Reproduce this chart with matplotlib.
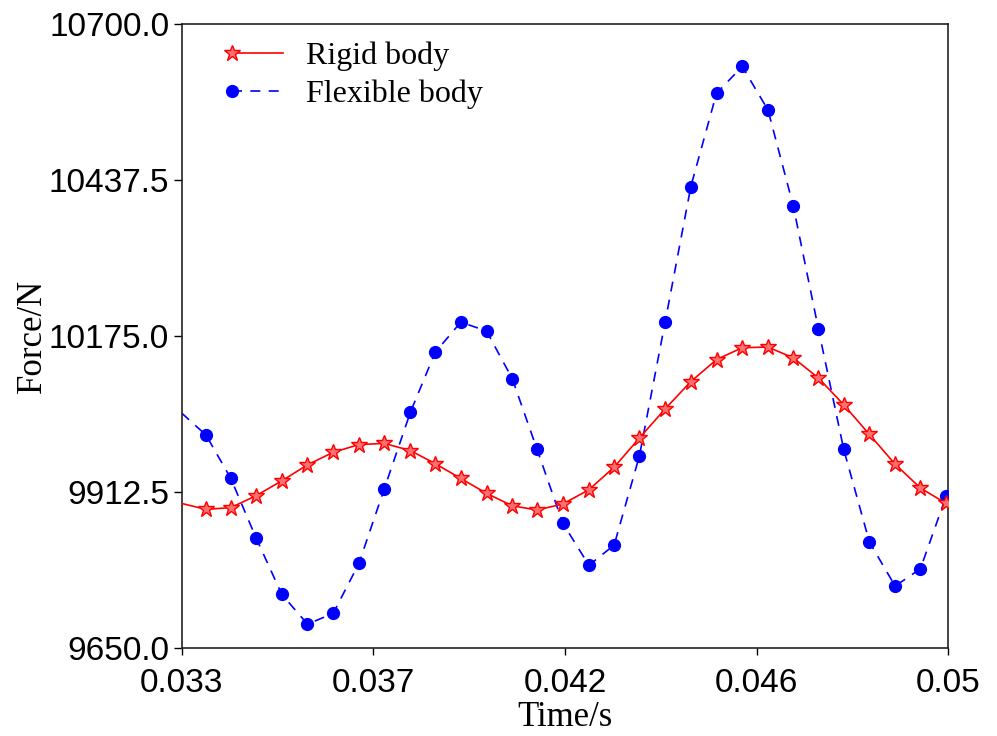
import numpy as np
import matplotlib
matplotlib.use("Agg")
import matplotlib.pyplot as plt
from matplotlib.lines import Line2D
from matplotlib.legend_handler import HandlerLine2D

# marker times (s)
t = [0.03354, 0.03409, 0.03465, 0.03522, 0.03579, 0.03636, 0.03693, 0.03749,
     0.03807, 0.03862, 0.03919, 0.03976, 0.04033, 0.04088, 0.04145, 0.04203,
     0.04259, 0.04315, 0.04372, 0.04429, 0.04486, 0.04543, 0.04600, 0.04656,
     0.04712, 0.04768, 0.04825, 0.04882, 0.04938, 0.04995]

rigid = [9884, 9887, 9907, 9932, 9959, 9980, 9993, 9995, 9983, 9961,
         9936, 9911, 9890, 9883, 9893, 9917, 9955, 10004, 10053, 10099,
         10136, 10156, 10157, 10139, 10105, 10060, 10010, 9960, 9920, 9894]

flexible = [10009, 9936, 9836, 9741, 9691, 9709, 9793, 9918, 10047, 10148,
            10199, 10184, 10104, 9985, 9861, 9790, 9824, 9974, 10199, 10427,
            10584, 10629, 10556, 10395, 10187, 9985, 9829, 9755, 9784, 9906]

# line ends at the axis edges
t_start, t_end = 0.033, 0.05
rigid_start, rigid_end = 9894, 9891
flex_start, flex_end = 10046, 9915

xtick_labels = ["0.033", "0.037", "0.042", "0.046", "0.05"]
yticks = [9650.0, 9912.5, 10175.0, 10437.5, 10700.0]


class LeftMarkerHandler(HandlerLine2D):
    # legend sample with the marker at the left end of the line
    def create_artists(self, *args, **kwargs):
        artists = super().create_artists(*args, **kwargs)
        for a in artists:
            a.set_markevery([0])
        return artists


fig = plt.figure(figsize=(9.97, 7.36), dpi=100)
ax = fig.add_axes([0.1822, 0.1189, 0.7690, 0.8481])

red_style = dict(color="red", lw=1.2, marker="*", ms=12,
                 mfc="#ff7070", mec="red", mew=1.0)
blue_style = dict(color="blue", lw=1.2, ls=(0, (6, 5)), marker="o", ms=8.5,
                  mfc="blue", mec="blue")

# lines (without markers), then markers on top
ax.plot([t_start] + t + [t_end], [flex_start] + flexible + [flex_end],
        color="blue", lw=1.2, ls=(0, (6, 5)), zorder=2)
ax.plot(t, flexible, ls="none", marker="o", ms=8.5, mfc="blue", mec="blue", zorder=3)
ax.plot([t_start] + t + [t_end], [rigid_start] + rigid + [rigid_end],
        color="red", lw=1.2, zorder=4)
ax.plot(t, rigid, ls="none", marker="*", ms=12, mfc="#ff7070", mec="red",
        mew=1.0, zorder=5)

ax.set_xlim(t_start, t_end)
ax.set_ylim(yticks[0], yticks[-1])

ax.set_xticks(np.linspace(t_start, t_end, 5))
ax.set_xticklabels(xtick_labels, family="Liberation Sans", fontsize=24)
ax.set_yticks(yticks)
ax.set_yticklabels([f"{v:.1f}" for v in yticks], family="Liberation Sans", fontsize=24)
ax.tick_params(axis="x", direction="out", length=5, width=1, pad=9)
ax.tick_params(axis="y", direction="out", length=6, width=1, pad=3)

for sp in ax.spines.values():
    sp.set_linewidth(1.2)
    sp.set_color("#222222")

ax.set_xlabel("Time/s", family="Liberation Serif", fontsize=25)
ax.set_ylabel("Force/N", family="Liberation Serif", fontsize=25)
ax.xaxis.set_label_coords(0.5, -0.084)
ax.yaxis.set_label_coords(-0.173, 0.5)

handles = [Line2D([], [], **red_style), Line2D([], [], **blue_style)]
ax.legend(handles, ["Rigid body", "Flexible body"],
          handler_map={Line2D: LeftMarkerHandler(numpoints=1)},
          loc="upper left", bbox_to_anchor=(0.066, 0.972), frameon=False,
          prop={"family": "Liberation Serif", "size": 23},
          handlelength=1.6, handletextpad=0.72, labelspacing=0.25,
          borderpad=0, borderaxespad=0)

fig.savefig("out.png", dpi=100)
